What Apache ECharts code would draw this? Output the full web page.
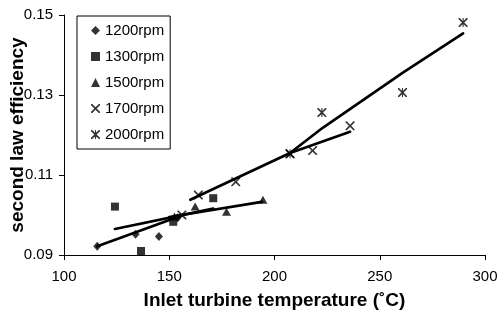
<!DOCTYPE html>
<html>
<head>
<meta charset="utf-8">
<script src="https://cdn.jsdelivr.net/npm/echarts@6/dist/echarts.min.js"></script>
<style>
html,body{margin:0;padding:0;background:#fff;}
#c{width:499px;height:325px;}
</style>
</head>
<body>
<div id="c"></div>
<script>
// ---- data ----
var xTicks = [100, 150, 200, 250, 300];
var yTicks = [0.09, 0.11, 0.13, 0.15];

var rpm1200 = [[115.8, 0.0922], [134.0, 0.0952], [145.1, 0.0946], [154.0, 0.0993]];
var rpm1300 = [[124.2, 0.1021], [136.6, 0.0910], [151.9, 0.0983], [170.9, 0.1042]];
var rpm1500 = [[152.5, 0.0996], [162.3, 0.1021], [177.2, 0.1008], [194.5, 0.1038]];
var rpm1700 = [[156.0, 0.1000], [163.8, 0.1050], [181.6, 0.1083], [207.4, 0.1153], [218.1, 0.1161], [235.9, 0.1223]];
var rpm2000 = [[207.4, 0.1153], [222.5, 0.1256], [260.8, 0.1306], [289.6, 0.1481]];

// trend lines
var trend1200 = [[115.8, 0.0922], [156.0, 0.0999]];
var trend1300 = [[124.2, 0.0965], [170.9, 0.1016]];
var trend1500 = [[150.0, 0.0995], [194.0, 0.1033]];
var trend1700 = [[160.0, 0.1038], [207.4, 0.1155], [235.9, 0.1208]];
var trend2000 = [[207.4, 0.1155], [222.9, 0.1218], [261.0, 0.1356], [289.6, 0.1454]];

var names = ['1200rpm', '1300rpm', '1500rpm', '1700rpm', '2000rpm'];

var X_PATH = 'path://M0,0 L1.3,0 L5,3.7 L8.7,0 L10,0 L10,1.3 L6.3,5 L10,8.7 L10,10 L8.7,10 L5,6.3 L1.3,10 L0,10 L0,8.7 L3.7,5 L0,1.3 Z';
var AST_PATH = 'path://M0,0 L1.3,0 L5,3.7 L8.7,0 L10,0 L10,1.3 L6.3,5 L10,8.7 L10,10 L8.7,10 L5,6.3 L1.3,10 L0,10 L0,8.7 L3.7,5 L0,1.3 Z M4.4,0 L5.6,0 L5.6,10 L4.4,10 Z';

var FONT = '"Liberation Sans", Arial, sans-serif';

function scatter(name, data, symbol, size) {
  return {
    name: name, type: 'scatter', data: data, symbol: symbol, symbolSize: size,
    itemStyle: { color: '#000' }, z: 3, silent: true
  };
}
function trend(data) {
  return {
    type: 'line', data: data, showSymbol: false, symbol: 'none', smooth: false,
    lineStyle: { color: '#000', width: 2.7, join: 'round', cap: 'round' }, z: 2, silent: true
  };
}

var chart = echarts.init(document.getElementById('c'), null, { renderer: 'canvas' });
chart.setOption({
  animation: false,
  backgroundColor: '#fff',
  grid: { left: 64, right: 14, top: 15, bottom: 70, containLabel: false, outerBoundsMode: 'none' },
  legend: {
    data: names,
    orient: 'vertical',
    left: 77, top: 16,
    padding: [7, 6, 7, 14],
    itemGap: 11,
    itemWidth: 9, itemHeight: 9,
    borderColor: '#000', borderWidth: 1,
    textStyle: { fontFamily: FONT, fontSize: 15, color: '#000' },
    selectedMode: false
  },
  xAxis: {
    type: 'value', min: 100, max: 300, interval: 50,
    name: 'Inlet turbine temperature (\u02DAC)',
    nameLocation: 'middle', nameGap: 36,
    nameTextStyle: { fontFamily: FONT, fontSize: 19, fontWeight: 'bold', color: '#000' },
    axisLine: { show: true, lineStyle: { color: '#000', width: 1 } },
    axisTick: { show: true, length: 5, lineStyle: { color: '#000' } },
    axisLabel: { fontFamily: FONT, fontSize: 15, color: '#000', margin: 14,
      formatter: function (v) { return xTicks.indexOf(v) >= 0 ? String(v) : ''; } },
    splitLine: { show: false }
  },
  yAxis: {
    type: 'value', min: 0.09, max: 0.15, interval: 0.02,
    name: 'second law efficiency',
    nameLocation: 'middle', nameGap: 37, nameRotate: 90, nameMoveOverlap: false,
    nameTextStyle: { fontFamily: FONT, fontSize: 19, fontWeight: 'bold', color: '#000' },
    axisLine: { show: true, lineStyle: { color: '#000', width: 1 } },
    axisTick: { show: true, length: 5, lineStyle: { color: '#000' } },
    axisLabel: { fontFamily: FONT, fontSize: 15, color: '#000', margin: 11,
      formatter: function (v) {
        for (var i = 0; i < yTicks.length; i++) { if (Math.abs(yTicks[i] - v) < 1e-9) return yTicks[i].toFixed(2); }
        return '';
      } },
    splitLine: { show: false }
  },
  series: [
    trend(trend1200), trend(trend1300), trend(trend1500), trend(trend1700), trend(trend2000),
    scatter(names[0], rpm1200, 'diamond', [8, 9]),
    scatter(names[1], rpm1300, 'rect', 8),
    scatter(names[2], rpm1500, 'triangle', [9, 8]),
    scatter(names[3], rpm1700, X_PATH, 9),
    scatter(names[4], rpm2000, AST_PATH, 9)
  ]
});
</script>
</body>
</html>
